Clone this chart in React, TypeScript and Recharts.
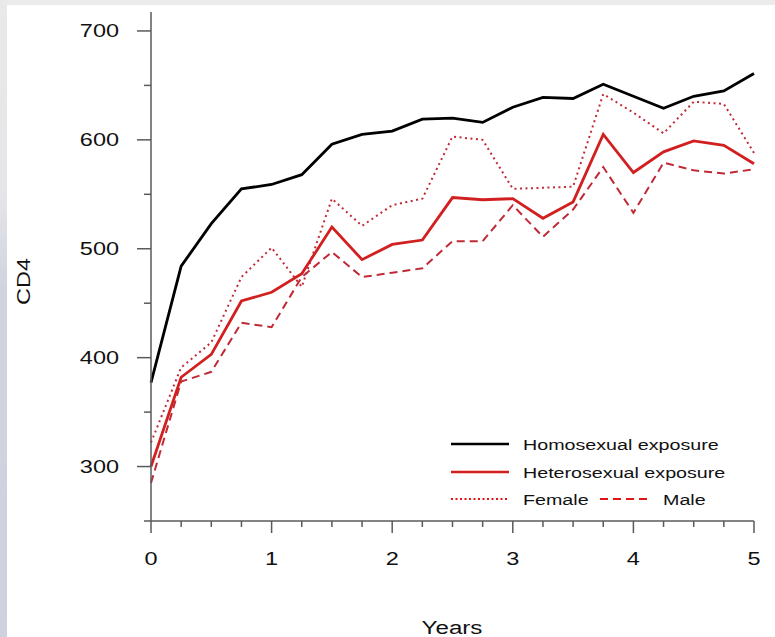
import { LineChart, Line, XAxis, YAxis } from "recharts";

// follow-up time in years (quarterly visits)
const years = [0, 0.25, 0.5, 0.75, 1, 1.25, 1.5, 1.75, 2, 2.25, 2.5, 2.75, 3, 3.25, 3.5, 3.75, 4, 4.25, 4.5, 4.75, 5];

// mean CD4 per visit
const homosexual = [377, 484, 523, 555, 559, 568, 596, 605, 608, 619, 620, 616, 630, 639, 638, 651, 640, 629, 640, 645, 661];
const heterosexual = [300, 382, 403, 452, 460, 477, 520, 490, 504, 508, 547, 545, 546, 528, 543, 605, 570, 589, 599, 595, 578];
const female = [322, 391, 414, 474, 501, 465, 546, 521, 540, 546, 603, 600, 555, 556, 557, 642, 625, 606, 635, 633, 588];
const male = [285, 378, 387, 432, 428, 474, 497, 474, 478, 482, 507, 507, 540, 511, 536, 575, 533, 579, 572, 569, 573];

const xTicks = [0, 0.25, 0.5, 0.75, 1, 1.25, 1.5, 1.75, 2, 2.25, 2.5, 2.75, 3, 3.25, 3.5, 3.75, 4, 4.25, 4.5, 4.75, 5];
const yTicks = [250, 300, 350, 400, 450, 500, 550, 600, 650, 700];

const data = years.map((t, i) => ({
  t,
  homosexual: homosexual[i],
  heterosexual: heterosexual[i],
  female: female[i],
  male: male[i],
}));

const FONT = "'Liberation Sans', Arial, sans-serif";
const SX = 1.27; // glyphs in the original are wide
const AXIS = "#5a5a5a";
const RED = "#d21f1f";
const RED2 = "#c02a36";

function SText({ x, y, size, anchor = "start", rotate = false, children }: any) {
  return (
    <g transform={`translate(${x},${y})${rotate ? " rotate(-90)" : ""} scale(${SX},1)`}>
      <text x={0} y={0} fontSize={size} textAnchor={anchor} fontFamily={FONT} fill="#111">
        {children}
      </text>
    </g>
  );
}

function XTick({ x, y, payload }: any) {
  const major = Number.isInteger(payload.value);
  return (
    <g>
      <line x1={x} x2={x} y1={y} y2={y + (major ? 12 : 6)} stroke={AXIS} strokeWidth={1.5} />
      {major && (
        <SText x={x} y={y + 44} size={18.5} anchor="middle">
          {payload.value}
        </SText>
      )}
    </g>
  );
}

function YTick({ x, y, payload }: any) {
  const major = payload.value % 100 === 0;
  return (
    <g>
      <line x1={x - (major ? 14 : 7)} x2={x} y1={y} y2={y} stroke={AXIS} strokeWidth={1.5} />
      {major && (
        <SText x={x - 32} y={y + 6.5} size={18.5} anchor="end">
          {payload.value}
        </SText>
      )}
    </g>
  );
}

function Overlay() {
  return (
    <svg width={775} height={637} style={{ position: "absolute", left: 0, top: 0, pointerEvents: "none" }}>
      <SText x={30} y={281.5} size={18.5} anchor="middle" rotate>
        CD4
      </SText>
      <SText x={452} y={634} size={19} anchor="middle">
        Years
      </SText>
      <line x1={451} x2={509} y1={444} y2={444} stroke="#000" strokeWidth={2.5} />
      <SText x={523} y={450} size={15.5}>
        Homosexual exposure
      </SText>
      <line x1={451} x2={509} y1={472} y2={472} stroke={RED} strokeWidth={2.5} />
      <SText x={523} y={478} size={15.5}>
        Heterosexual exposure
      </SText>
      <line x1={451} x2={509} y1={499} y2={499} stroke="#e01515" strokeWidth={2} strokeDasharray="2 2.5" />
      <SText x={523} y={505} size={15.5}>
        Female
      </SText>
      <line x1={600} x2={648} y1={499} y2={499} stroke="#e01515" strokeWidth={2} strokeDasharray="8 5" />
      <SText x={663} y={505} size={15.5}>
        Male
      </SText>
    </svg>
  );
}

export default function App() {
  return (
    <div style={{ position: "absolute", left: 0, top: 0, width: 775, height: 637, background: "#fff", overflow: "hidden" }}>
      <div style={{ position: "absolute", left: 0, top: 0, width: 775, height: 5, background: "#ebebeb" }} />
      <div
        style={{
          position: "absolute",
          left: 0,
          top: 0,
          width: 7,
          height: 637,
          background: "linear-gradient(#e9e9e9 0%, #e6e6e9 30%, #cfd4df 45%, #cdd2de 100%)",
        }}
      />
      <LineChart width={775} height={637} data={data} margin={{ top: 12, right: 21, bottom: 0, left: 0 }}>
        <XAxis
          dataKey="t"
          type="number"
          domain={[0, 5]}
          ticks={xTicks}
          interval={0}
          height={116}
          tickSize={0}
          tickMargin={0}
          tickLine={false}
          axisLine={{ stroke: AXIS, strokeWidth: 1.5 }}
          tick={<XTick />}
        />
        <YAxis
          type="number"
          domain={[250, 717.4]}
          ticks={yTicks}
          interval={0}
          allowDataOverflow
          width={151}
          tickSize={0}
          tickMargin={0}
          tickLine={false}
          axisLine={{ stroke: AXIS, strokeWidth: 1.5 }}
          tick={<YTick />}
        />
        <Line type="linear" dataKey="female" stroke={RED2} strokeWidth={2} strokeDasharray="2 3.5" dot={false} isAnimationActive={false} />
        <Line type="linear" dataKey="male" stroke={RED2} strokeWidth={2} strokeDasharray="8 5" dot={false} isAnimationActive={false} />
        <Line type="linear" dataKey="heterosexual" stroke={RED} strokeWidth={2.8} dot={false} isAnimationActive={false} />
        <Line type="linear" dataKey="homosexual" stroke="#000" strokeWidth={2.8} dot={false} isAnimationActive={false} />
      </LineChart>
      <Overlay />
    </div>
  );
}
